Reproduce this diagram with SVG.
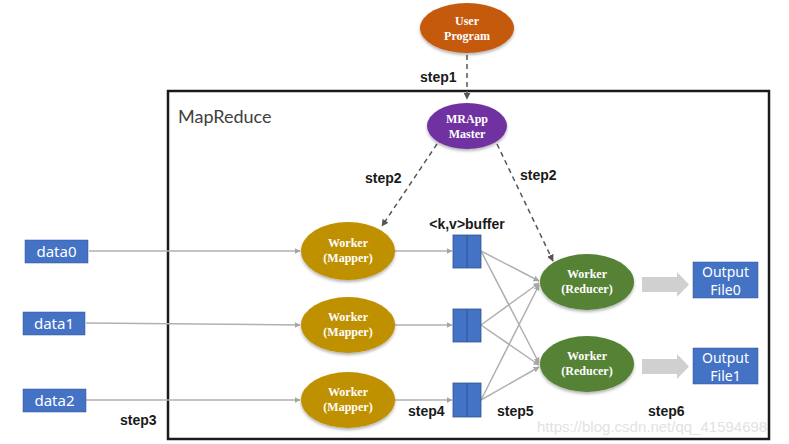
<svg xmlns="http://www.w3.org/2000/svg" width="789" height="444" viewBox="0 0 789 444">
<style>
.et{font-family:"Liberation Serif",serif;font-weight:bold;font-size:12px;fill:#fff;text-anchor:middle}
.bx{fill:#4472c4;stroke:#2f5597;stroke-width:0.5}
.bt{font-family:"Noto Sans","Liberation Sans",sans-serif;font-size:15px;fill:#fff;text-anchor:middle}
.ot{font-family:"Noto Sans","Liberation Sans",sans-serif;font-size:14px;fill:#fff;text-anchor:middle}
.st{font-family:"Liberation Sans",sans-serif;font-weight:bold;font-size:14px;fill:#1a1a1a}
.gl{stroke:#b0b0b0;stroke-width:1.5;fill:none;marker-end:url(#ga)}
.dl{stroke:#555;stroke-width:1.5;fill:none;stroke-dasharray:5,4;marker-end:url(#da)}
.buf{fill:#4472c4;stroke:#2f5597;stroke-width:0.8}
</style>
<defs>
<marker id="ga" viewBox="0 0 10 10" refX="9" refY="5" markerWidth="6" markerHeight="6" orient="auto" markerUnits="userSpaceOnUse"><path d="M0,0 L10,5 L0,10 z" fill="#a6a6a6"/></marker>
<marker id="da" viewBox="0 0 10 10" refX="9" refY="5" markerWidth="7" markerHeight="7" orient="auto" markerUnits="userSpaceOnUse"><path d="M0,0 L10,5 L0,10 z" fill="#555"/></marker>
<filter id="sh" x="-20%" y="-20%" width="140%" height="150%"><feDropShadow dx="0" dy="2" stdDeviation="1.5" flood-color="#000" flood-opacity="0.3"/></filter>
</defs>
<rect width="789" height="444" fill="#fff"/>
<g id="frame">
<rect x="168" y="91" width="601" height="348" fill="none" stroke="#1a1a1a" stroke-width="2.5"/>
<text x="178" y="123" font-family="Lato,'Liberation Sans',sans-serif" font-size="18" fill="#404040">MapReduce</text>
</g>
<g id="connectors">
<path class="dl" d="M467,55 L467,99"/>
<path class="dl" d="M437,144 L382,226"/>
<path class="dl" d="M497,144 L553,261"/>
<path class="gl" d="M89,251 L300,251"/>
<path class="gl" d="M86,323 L300,325"/>
<path class="gl" d="M86,400 L300,400"/>
<path class="gl" d="M395,251 L452,251"/>
<path class="gl" d="M395,325 L452,325"/>
<path class="gl" d="M395,400 L452,400"/>
<path class="gl" d="M481,251 L539,281"/>
<path class="gl" d="M481,251 L539,363"/>
<path class="gl" d="M481,325 L539,283"/>
<path class="gl" d="M481,325 L539,365"/>
<path class="gl" d="M481,400 L539,285"/>
<path class="gl" d="M481,400 L539,367"/>
<path d="M642,277 L677,277 L677,272 L689,284.5 L677,297 L677,292 L642,292 z" fill="#d0d0d0"/>
<path d="M642,359 L677,359 L677,354 L689,366.5 L677,379 L677,374 L642,374 z" fill="#d0d0d0"/>
</g>
<g id="user-program"><ellipse cx="467" cy="28" rx="47" ry="25" fill="#c55a11" filter="url(#sh)"/><text class="et" x="467" y="25">User</text><text class="et" x="467" y="40">Program</text></g>
<g id="mrapp-master"><ellipse cx="467" cy="126" rx="40" ry="23" fill="#7030a0" filter="url(#sh)"/><text class="et" x="467" y="123">MRApp</text><text class="et" x="467" y="138">Master</text></g>
<g id="mapper0"><ellipse cx="348" cy="251" rx="47" ry="29" fill="#bf9000" filter="url(#sh)"/><text class="et" x="348" y="247">Worker</text><text class="et" x="348" y="262">(Mapper)</text></g>
<g id="mapper1"><ellipse cx="348" cy="325" rx="47" ry="28" fill="#bf9000" filter="url(#sh)"/><text class="et" x="348" y="321">Worker</text><text class="et" x="348" y="336">(Mapper)</text></g>
<g id="mapper2"><ellipse cx="348" cy="400" rx="47" ry="28" fill="#bf9000" filter="url(#sh)"/><text class="et" x="348" y="396">Worker</text><text class="et" x="348" y="411">(Mapper)</text></g>
<g id="reducer0"><ellipse cx="587" cy="282" rx="47" ry="28" fill="#548235" filter="url(#sh)"/><text class="et" x="587" y="278">Worker</text><text class="et" x="587" y="293">(Reducer)</text></g>
<g id="reducer1"><ellipse cx="587" cy="364" rx="47" ry="28" fill="#548235" filter="url(#sh)"/><text class="et" x="587" y="360">Worker</text><text class="et" x="587" y="375">(Reducer)</text></g>
<g id="buffer0"><rect class="buf" x="453" y="235" width="28" height="33"/><line x1="467" y1="235" x2="467" y2="268" stroke="#2f5597"/></g>
<g id="buffer1"><rect class="buf" x="453" y="309" width="28" height="33"/><line x1="467" y1="309" x2="467" y2="342" stroke="#2f5597"/></g>
<g id="buffer2"><rect class="buf" x="453" y="383" width="28" height="34"/><line x1="467" y1="383" x2="467" y2="417" stroke="#2f5597"/></g>
<text x="467" y="229" class="st" text-anchor="middle">&lt;k,v&gt;buffer</text>
<g id="data0"><rect class="bx" x="25" y="240" width="63" height="23"/><text class="bt" x="56.5" y="257">data0</text></g>
<g id="data1"><rect class="bx" x="23" y="312" width="62" height="23"/><text class="bt" x="54" y="329">data1</text></g>
<g id="data2"><rect class="bx" x="23" y="389" width="63" height="23"/><text class="bt" x="54.5" y="406">data2</text></g>
<g id="output0"><rect class="bx" x="693" y="262" width="65" height="36"/><text class="ot" x="725.5" y="277">Output</text><text class="ot" x="725.5" y="295">File0</text></g>
<g id="output1"><rect class="bx" x="693" y="348" width="65" height="36"/><text class="ot" x="725.5" y="363">Output</text><text class="ot" x="725.5" y="381">File1</text></g>
<g id="labels">
<text class="st" x="420" y="82">step1</text>
<text class="st" x="365" y="183">step2</text>
<text class="st" x="520" y="180">step2</text>
<text class="st" x="120" y="425">step3</text>
<text class="st" x="408" y="416">step4</text>
<text class="st" x="497" y="416">step5</text>
<text class="st" x="648" y="416">step6</text>
<text x="537" y="432" font-family="'Liberation Sans',sans-serif" font-size="15" fill="#e2e2e2">https://blog.csdn.net/qq_41594698</text>
</g>
</svg>
